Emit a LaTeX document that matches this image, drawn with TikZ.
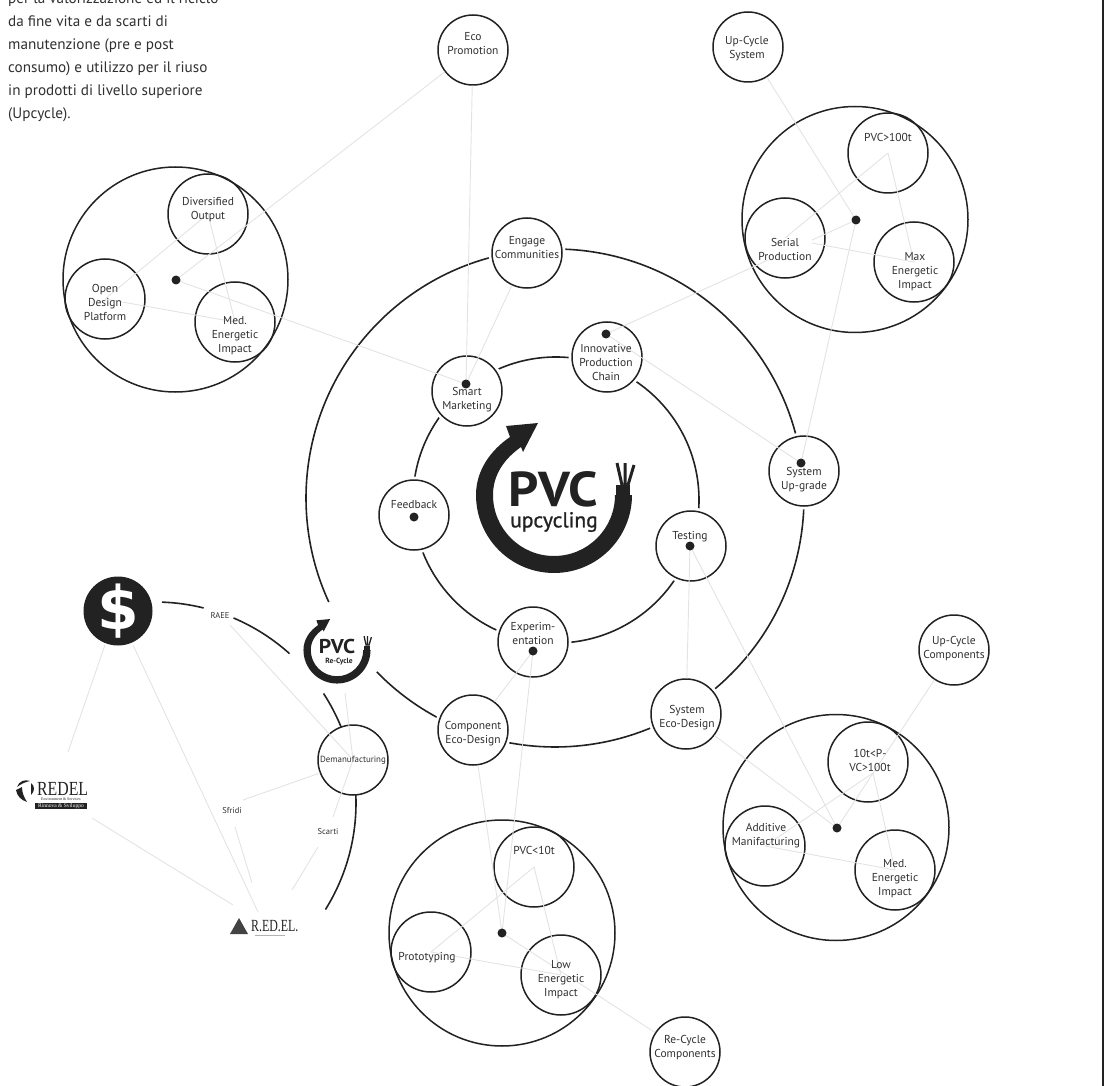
\documentclass[tikz,border=0pt]{standalone}
\usepackage{fontspec}
\setmainfont{PT Sans}
\newfontfamily\serifl{Liberation Serif}
\newfontfamily\dejab{DejaVu Sans Bold}
\newfontfamily\fakeb[FakeBold=1.1]{PT Sans}
\definecolor{ink}{HTML}{222222}
\definecolor{txt}{HTML}{303030}
\definecolor{conn}{HTML}{E3E3E3}
\tikzset{
  circ/.style={circle,draw=ink,line width=1.5pt,inner sep=0pt},
  lab/.style={align=center,text=txt,font=\fontsize{11.5}{14}\selectfont,inner sep=0pt},
  smalllab/.style={align=center,text=txt,font=\fontsize{8.5}{10}\selectfont,inner sep=0pt},
  ring/.style={draw=ink,line width=1.6pt},
  link/.style={draw=conn,line width=0.9pt},
  dotn/.style={circle,fill=ink,inner sep=0pt,minimum size=9pt},
}
\newcommand{\cn}[4]{\node[circ,minimum size=#4*2pt] (#1) at (#2,#3) {};}
\newcommand{\hn}[4]{\fill[white] (#2,#3) circle[radius=#4pt+3.5pt]; \node[circ,fill=white,minimum size=#4*2pt] (#1) at (#2,#3) {};}
\newcommand{\tx}[4]{\node[lab] (#1) at (#2,#3) {#4};}
\newcommand{\dt}[1]{\node[dotn] (n#1) at (#1) {};}
\newcommand{\lk}[2]{\draw[link] (#1.center) -- (#2.center);}
\newcommand{\lb}[2]{\draw[link] (#1) -- (#2);}
\newcommand{\pvclogo}[3]{%
\begin{scope}[shift={(#1,#2)},scale=#3]
  \fill[ink] (78pt,0pt) arc[start angle=0,end angle=-180,radius=78pt]
     .. controls (-78,-25) and (-63,-45) .. (-44,-58) -- (-48,-69) -- (-16,-72) -- (-31,-43) -- (-33,-48)
     .. controls (-50,-36) and (-61,-20) .. (-61,0)
     arc[start angle=180,end angle=360,radius=61pt] -- cycle;
  \fill[ink] (62,-10) rectangle (76,2);
  \draw[ink,line width=#3*3pt] (68,-10) -- (63,-32) (71,-10) -- (71,-32) (74,-10) -- (80,-30);
\end{scope}}
\begin{document}
\begin{tikzpicture}[x=1pt,y=-1pt]
\useasboundingbox (0,0) rectangle (1104,1086);
\fill[ink] (1101.5,0) rectangle (1104,1086);

\node[anchor=north west,align=left,text=txt,inner sep=0pt,font=\fontsize{15.2}{23}\selectfont] (intro) at (8,-7)
 {per la valorizzazione ed il riciclo\\da fine vita e da scarti di\\manutenzione (pre e post\\consumo) e utilizzo per il riuso\\in prodotti di livello superiore\\(Upcycle).};

\coordinate (cbig) at (555,498);
\coordinate (csmall) at (556,500);
\coordinate (cleft) at (155,803);
\draw[ring] (cbig) ++(224.3:249pt) arc[start angle=224.3,end angle=564.7,radius=249pt];
\draw[ring] (csmall) circle[radius=143pt];
\draw[ring] (cleft) ++(88:201pt) arc[start angle=88,end angle=76,radius=201pt];
\draw[ring] (cleft) ++(67:201pt) arc[start angle=67,end angle=48,radius=201pt];
\draw[ring] (cleft) ++(33:201pt) arc[start angle=33,end angle=-32,radius=201pt];

\hn{engage}{527}{253}{35}
\hn{innov}{607}{357}{35}
\hn{smart}{467}{391}{35}
\hn{feed}{414}{515}{35}
\hn{test}{691}{546}{35}
\hn{upgrade}{804}{471}{35}
\hn{exper}{533}{642}{35}
\hn{comp}{473}{730}{35}
\hn{sysd}{686}{714}{35}
\node[circ,fill=white,minimum size=70pt] (deman) at (353,760) {};

\cn{eco}{473}{50}{35}
\cn{upsys}{748}{47}{35}
\cn{upcomp}{954}{650}{35}
\cn{recomp}{685}{1052}{35}

\cn{b1}{175.5}{279.5}{112.5}
\cn{div}{208}{214}{40}
\cn{open}{105}{299}{40}
\cn{med1}{235}{322}{40}
\cn{b2}{855}{219.5}{113}
\cn{p100}{888}{153}{40}
\cn{serial}{785}{238}{40}
\cn{maxe}{914}{262}{40}
\cn{b3}{836}{827.5}{113}
\cn{p10}{868}{762}{40}
\cn{addi}{765}{846}{40}
\cn{med2}{895}{870}{40}
\cn{b4}{502}{933}{113}
\cn{pl10}{534}{867}{40}
\cn{proto}{431}{952}{40}
\cn{low}{561}{975}{40}

\coordinate (d1) at (176,280);
\coordinate (d2) at (856,220);
\coordinate (d3) at (837,828);
\coordinate (d4) at (502,933);
\coordinate (dsmart) at (466,384);
\coordinate (dinnov) at (606,334);
\coordinate (dup) at (801,463);
\coordinate (dfeed) at (414,517);
\coordinate (dtest) at (690,546);
\coordinate (dexp) at (533,651);
\coordinate (v10) at (873,773);

\coordinate (sf1) at (320,773); \coordinate (sf2) at (243,800);
\coordinate (sf3) at (235,827); \coordinate (sf4) at (252,883);
\coordinate (sc1) at (333,817); \coordinate (sc2) at (318,847); \coordinate (sc3) at (292,890);
\coordinate (ra) at (230,625);
\coordinate (rec) at (345,693);
\coordinate (dl1) at (105,645); \coordinate (dl2) at (68,752);
\coordinate (dr1) at (133,645); \coordinate (dr2) at (258,912);
\coordinate (rd1) at (92,818); \coordinate (rd2) at (233,905);

\lb{d1}{eco} \lk{d1}{dsmart} \lb{dsmart}{eco} \lb{dsmart}{engage}
\lk{div}{open} \lk{div}{med1} \lk{open}{med1}
\lk{dinnov}{d2} \lk{dinnov}{dup} \lk{d2}{dup} \lb{d2}{upsys}
\lk{p100}{serial} \lk{p100}{maxe} \lk{serial}{maxe}
\lk{dtest}{d3} \lb{dtest}{sysd} \lb{d3}{sysd} \lb{d3}{upcomp}
\lk{v10}{addi} \lk{v10}{med2} \lk{addi}{med2}
\lb{dexp}{comp} \lk{dexp}{d4} \lb{d4}{comp} \lb{d4}{recomp}
\lk{pl10}{proto} \lk{pl10}{low} \lk{proto}{low}
\lk{deman}{ra} \lk{deman}{rec} \lk{deman}{sc1}
\draw[link] (sf1) -- (sf2);
\draw[link] (sf3) -- (sf4);
\draw[link] (sc2) -- (sc3);
\draw[link] (dl1) -- (dl2);
\draw[link] (dr1) -- (dr2);
\draw[link] (rd1) -- (rd2);

\dt{d1} \dt{d2} \dt{d3} \dt{d4} \dt{dsmart} \dt{dinnov} \dt{dup} \dt{dfeed} \dt{dtest} \dt{dexp}

\tx{tEco}{473}{44}{Eco\\Promotion}
\tx{tUps}{747}{49}{Up-Cycle\\System}
\tx{tUpc}{954}{649}{Up-Cycle\\Components}
\tx{tRec}{685}{1048}{Re-Cycle\\Components}
\tx{tDiv}{208}{210}{Diversified\\Output}
\tx{tOpen}{105}{302}{Open\\Design\\Platform}
\tx{tMed1}{235}{336}{Med.\\Energetic\\Impact}
\tx{tP100}{888}{137}{PVC>100t}
\node[lab,fill=white] (tSer) at (785,249) {Serial\\Production};
\tx{tMax}{915}{272}{Max\\Energetic\\Impact}
\tx{tP10}{870}{760}{10t<P-\\VC>100t}
\tx{tAdd}{766}{836}{Additive\\Manifacturing}
\tx{tMed2}{895}{879}{Med.\\Energetic\\Impact}
\tx{tPl}{534}{850}{PVC<10t}
\tx{tPro}{427}{958}{Prototyping}
\tx{tLow}{561}{980}{Low\\Energetic\\Impact}
\tx{tEng}{527}{248}{Engage\\Communities}
\tx{tInn}{606}{362}{Innovative\\Production\\Chain}
\tx{tSma}{467}{400}{Smart\\Marketing}
\tx{tFee}{414}{505}{Feedback}
\tx{tTes}{690}{537}{Testing}
\tx{tUpg}{804}{480}{System\\Up-grade}
\tx{tExp}{533}{633}{Experim-\\entation}
\tx{tCom}{473}{734}{Component\\Eco-Design}
\tx{tSys}{687}{718}{System\\Eco-Design}
\node[lab,font=\fontsize{8.9}{12}\selectfont] (tDem) at (353,760) {Demanufacturing};
\node[smalllab] (raee) at (220,615) {RAEE};
\node[smalllab] (sfridi) at (232,811) {Sfridi};
\node[smalllab] (scarti) at (328,832) {Scarti};

\pvclogo{554}{495}{1}
\node[text=ink,inner sep=0pt,xscale=1.08,font=\fontsize{49}{49}\bfseries\selectfont] (pvcbig) at (553,489) {PVC};
\node[text=ink,inner sep=0pt,font=\fakeb\fontsize{21.5}{22}\selectfont] (upc) at (554,522) {upcycling};
\pvclogo{337}{650}{0.43}
\node[text=ink,inner sep=0pt,xscale=1.08,font=\fontsize{20}{20}\bfseries\selectfont] (pvcsm) at (337,646) {PVC};
\node[text=ink,inner sep=0pt,font=\fontsize{7.5}{8}\bfseries\selectfont] (recy) at (339,662) {Re-Cycle};

\node[circle,fill=ink,minimum size=69pt,inner sep=0pt] (dollar) at (118,611) {};
\node[text=white,inner sep=0pt,font=\dejab\fontsize{60}{60}\selectfont] (dsign) at (118,611) {\$};

% REDEL logo
\fill[ink] (17,787) .. controls (19,781) and (25,779) .. (30,781) .. controls (25,782) and (21,784) .. (17,787) -- cycle;
\fill[ink] (31,783) .. controls (35,786) and (35,791) .. (31,795) .. controls (31,791) and (31,787) .. (31,783) -- cycle;
\fill[ink] (16,790) .. controls (17,796) and (21,800) .. (27,802) .. controls (24,797) and (22,793) .. (22,787) -- cycle;
\node[text=ink,inner sep=0pt,anchor=base west,xscale=.79,font=\serifl\fontsize{20}{20}\selectfont] (redel) at (37,795) {REDEL};
\node[text=ink,inner sep=0pt,font=\serifl\fontsize{4}{4}\selectfont] (rsub) at (61,799.5) {Environment \& Services};
\node[fill=ink,text=white,inner sep=0pt,minimum width=52pt,minimum height=6pt,font=\serifl\fontsize{5.5}{6}\selectfont] (rbox) at (61,806) {Rinnova \& Sviluppo};

% R.ED.EL logo
\fill[ink!85] (230,934) -- (239,918) -- (248,934) -- cycle;
\node[text=ink,inner sep=0pt,anchor=base west,xscale=.7,font=\serifl\fontsize{17}{17}\selectfont] (redel2) at (251,931) {R.ED.EL.};
\draw[gray!60,line width=.8pt] (255,935) -- (285,935);
\end{tikzpicture}
\end{document}
